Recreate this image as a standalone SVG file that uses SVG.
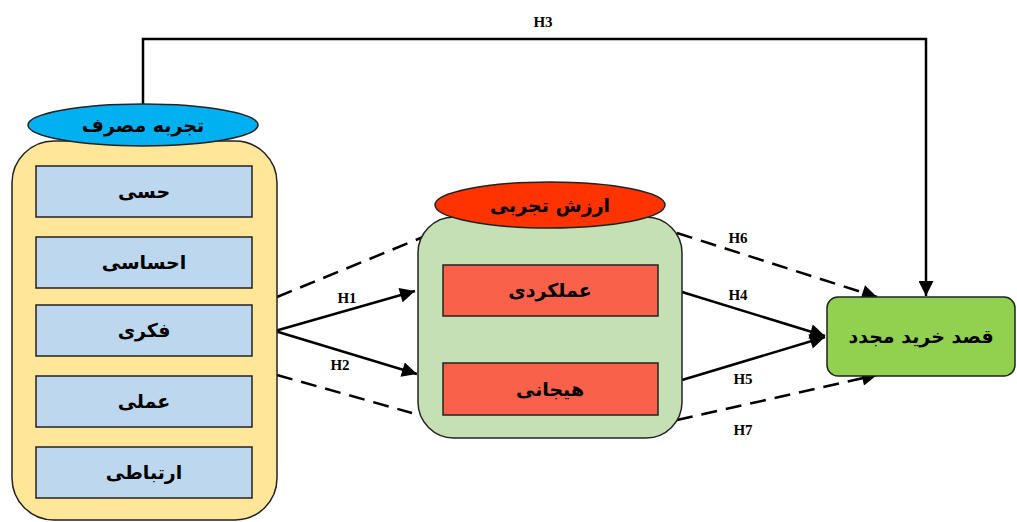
<svg xmlns="http://www.w3.org/2000/svg" width="1017" height="522" viewBox="0 0 1017 522">
<style>
.box{stroke:#222;stroke-width:1.5}
.fa{font-family:"DejaVu Sans",sans-serif;font-weight:bold;font-size:19px;fill:#000;text-anchor:middle;dominant-baseline:central}
.h{font-family:"Liberation Serif",serif;font-weight:bold;font-size:15px;fill:#000;text-anchor:middle}
.ln{stroke:#000;stroke-width:2.5;fill:none}
.ds{stroke-dasharray:16,9}
</style>
<defs>
<marker id="ah" viewBox="0 0 10 10" refX="10" refY="5" markerWidth="6.5" markerHeight="6" markerUnits="strokeWidth" orient="auto">
<path d="M0,0 L10,5 L0,10 z" fill="#000"/>
</marker>
</defs>
<rect width="1017" height="522" fill="#fff"/>
<g id="connectors">
<polyline class="ln" points="143,104 143,39 926,39 926,296" marker-end="url(#ah)"/>
<text class="h" x="543" y="27">H3</text>
<line class="ln" x1="275" y1="331" x2="415" y2="291" marker-end="url(#ah)"/>
<line class="ln" x1="275" y1="331" x2="417" y2="374" marker-end="url(#ah)"/>
<line class="ln ds" x1="277" y1="297" x2="423" y2="237"/>
<line class="ln ds" x1="277" y1="375" x2="412" y2="413"/>
<text class="h" x="347" y="303">H1</text>
<text class="h" x="340" y="370">H2</text>
<line class="ln ds" x1="677" y1="233" x2="877" y2="297" marker-end="url(#ah)"/>
<line class="ln" x1="682" y1="292" x2="825" y2="336" marker-end="url(#ah)"/>
<line class="ln" x1="682" y1="380" x2="825" y2="337" marker-end="url(#ah)"/>
<line class="ln ds" x1="677" y1="420" x2="877" y2="375" marker-end="url(#ah)"/>
<text class="h" x="738" y="243">H6</text>
<text class="h" x="738" y="300">H4</text>
<text class="h" x="743" y="384">H5</text>
<text class="h" x="743" y="435">H7</text>
</g>
<g id="consumer-experience">
<rect class="box" x="12" y="141" width="265" height="379" rx="42" fill="#FFE699"/>
<ellipse class="box" cx="143" cy="125" rx="115" ry="21" fill="#00B0F0"/>
<text class="fa" x="143" y="125">تجربه مصرف</text>
</g>
<g id="sensory"><rect class="box" x="36" y="166" width="216" height="51" fill="#BDD7EE"/><text class="fa" x="144" y="191">حسی</text></g>
<g id="emotional"><rect class="box" x="36" y="237" width="216" height="51" fill="#BDD7EE"/><text class="fa" x="144" y="262">احساسی</text></g>
<g id="cognitive"><rect class="box" x="36" y="305" width="216" height="51" fill="#BDD7EE"/><text class="fa" x="144" y="330">فکری</text></g>
<g id="practical"><rect class="box" x="36" y="376" width="216" height="51" fill="#BDD7EE"/><text class="fa" x="144" y="401">عملی</text></g>
<g id="relational"><rect class="box" x="36" y="447" width="216" height="51" fill="#BDD7EE"/><text class="fa" x="144" y="472">ارتباطی</text></g>
<g id="experiential-value">
<rect class="box" x="418" y="217" width="264" height="221" rx="36" fill="#C5E0B4"/>
<ellipse class="box" cx="550" cy="205" rx="115" ry="23" fill="#FF3300"/>
<text class="fa" x="550" y="205">ارزش تجربی</text>
</g>
<g id="functional"><rect class="box" x="443" y="265" width="215" height="51" fill="#FA614A"/><text class="fa" x="550" y="290">عملکردی</text></g>
<g id="hedonic"><rect class="box" x="443" y="363" width="215" height="52" fill="#FA614A"/><text class="fa" x="550" y="389">هیجانی</text></g>
<g id="repurchase-intention"><rect class="box" x="827" y="297" width="188" height="79" rx="11" fill="#92D050"/><text class="fa" x="921" y="336">قصد خرید مجدد</text></g>
</svg>
